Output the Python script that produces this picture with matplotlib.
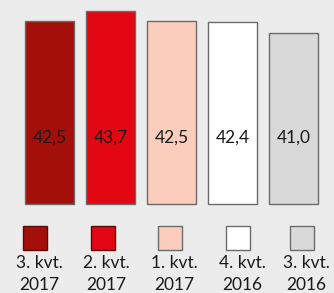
import matplotlib
matplotlib.use('Agg')
import matplotlib.pyplot as plt
from matplotlib.patches import Rectangle

# data
periods = ['3. kvt.\n2017', '2. kvt.\n2017', '1. kvt.\n2017', '4. kvt.\n2016', '3. kvt.\n2016']
values = [42.5, 43.7, 42.5, 42.4, 41.0]
colors = ['#a50f0a', '#e30613', '#fbcdbc', '#ffffff', '#d9d9d9']
base = 20

plt.rcParams['font.family'] = ['Lato', 'DejaVu Sans']
bg = '#ececec'
W, H = 334, 293

fig = plt.figure(figsize=(W / 100, H / 100), dpi=100, facecolor=bg)

# bar axes (pixel positions from the reference)
ax = fig.add_axes([19 / W, (H - 204) / H, 305 / W, (204 - 9) / H])
ax.set_facecolor(bg)
x = list(range(len(values)))
bars = ax.bar(x, [v - base for v in values], bottom=base, width=0.8,
              color=colors, edgecolor='#6b6b6b', linewidth=1.0)
for b in bars:
    b.set_clip_on(False)
ax.set_xlim(-0.5, 4.5)
ax.set_ylim(base, 44)
for i, v in enumerate(values):
    ax.text(i, 28.2, f'{v:.1f}'.replace('.', ','), ha='center', va='center',
            fontsize=12.5, color='#1a1a1a')
ax.axis('off')

# legend axes
lax = fig.add_axes([0, 0, 1, 1])
lax.set_xlim(0, W)
lax.set_ylim(H, 0)
lax.axis('off')
centers = [35, 102.5, 170, 238, 302]
for c, col, lab in zip(centers, colors, periods):
    lax.add_patch(Rectangle((c - 12, 226), 24, 24, facecolor=col,
                            edgecolor='#6b6b6b' if col in ('#ffffff', '#d9d9d9', '#fbcdbc') else '#5a0a05',
                            linewidth=1.0))
    lax.text(c + 4, 255, lab, ha='center', va='top', fontsize=12.5,
             color='#1a1a1a', linespacing=1.45)

fig.savefig('out.png', dpi=100, facecolor=bg)
